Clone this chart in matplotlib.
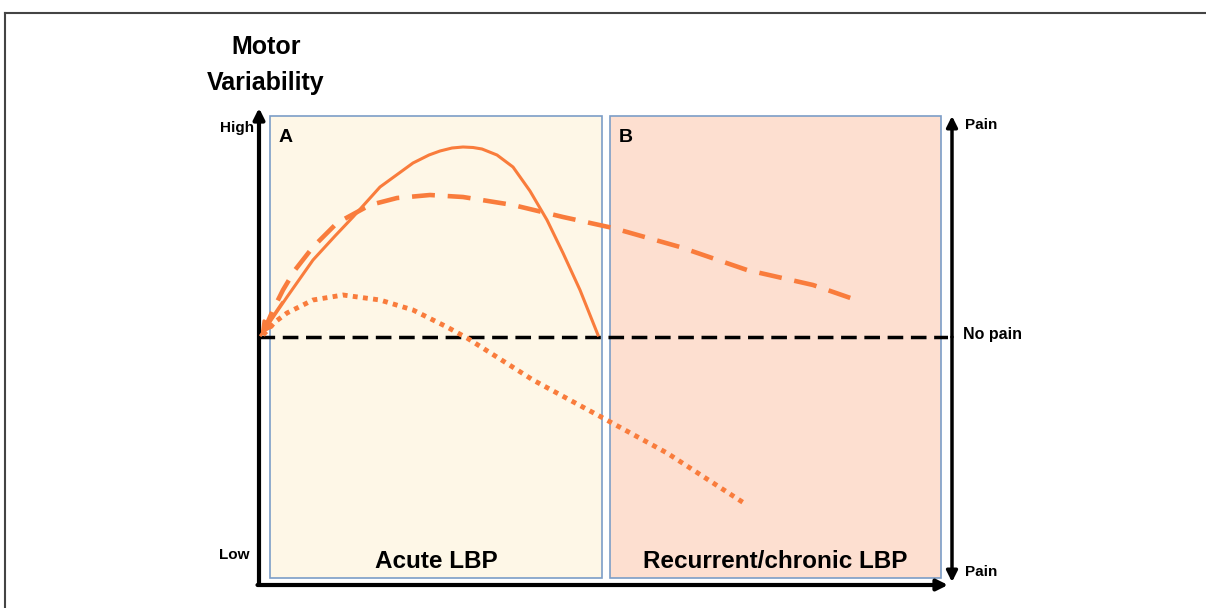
import matplotlib.pyplot as plt
from matplotlib.patches import Rectangle, FancyArrowPatch
from matplotlib.lines import Line2D

plt.rcParams['font.family'] = ['Liberation Sans', 'DejaVu Sans']

# time axis (0 = onset) and motor variability (0 = no-pain baseline)
solid_x = [0.02, 0.28, 0.54, 0.76, 0.94, 1.21, 1.54, 1.70, 1.81, 1.93, 2.04, 2.14, 2.23, 2.38, 2.54, 2.71, 2.88, 3.04, 3.21, 3.39]
solid_y = [0.02, 0.40, 0.77, 1.01, 1.20, 1.50, 1.74, 1.82, 1.86, 1.89, 1.90, 1.895, 1.88, 1.82, 1.70, 1.46, 1.17, 0.84, 0.47, 0.02]

dash_x = [0.04, 0.14, 0.24, 0.36, 0.54, 0.78, 1.11, 1.38, 1.71, 2.04, 2.54, 3.04, 3.54, 4.21, 4.88, 5.54, 6.03]
dash_y = [0.04, 0.27, 0.47, 0.67, 0.90, 1.14, 1.32, 1.39, 1.42, 1.40, 1.32, 1.20, 1.09, 0.90, 0.67, 0.52, 0.35]

dot_x = [0.04, 0.16, 0.28, 0.54, 0.84, 1.21, 1.54, 1.88, 2.08, 2.74, 3.44, 4.08, 4.88]
dot_y = [0.02, 0.15, 0.24, 0.37, 0.42, 0.37, 0.27, 0.10, -0.01, -0.43, -0.81, -1.16, -1.68]

phases = ['Acute LBP', 'Recurrent/chronic LBP']
phase_tags = ['A', 'B']
phase_start = [0.11, 3.51]
phase_end = [3.43, 6.82]
phase_colors = ['#FEF7E7', '#FDDFD0']

orange = '#F97C3C'

fig = plt.figure(figsize=(12.06, 6.08), dpi=100)
ax = fig.add_axes([259 / 1206, 1 - 585 / 608, (948 - 259) / 1206, (585 - 108) / 608])
ax.set_xlim(0, 6.89)
ax.set_ylim(-2.48, 2.29)
ax.axis('off')

y_low, y_high = -2.41, 2.21
for x0, x1, c, tag, name in zip(phase_start, phase_end, phase_colors, phase_tags, phases):
    ax.add_patch(Rectangle((x0, y_low), x1 - x0, y_high - y_low, facecolor=c,
                           edgecolor='#7C9DC7', linewidth=1.2, zorder=1))
    ax.text(x0 + 0.09, y_high - 0.21, tag, fontsize=14, fontweight='bold', ha='left', va='center')
    ax.text((x0 + x1) / 2, -2.24, name, fontsize=17.5, fontweight='bold', ha='center', va='center')

# no pain baseline
ax.plot([0, 6.89], [0, 0], color='black', linestyle=(0, (4.5, 2.2)), linewidth=2.5, zorder=3)

# curves
ax.plot(dot_x, dot_y, color=orange, linestyle=(0, (1, 1.1)), linewidth=3.5, zorder=4)
ax.plot(dash_x, dash_y, color=orange, linestyle=(0, (5, 2.8)), linewidth=3.3, zorder=4)
ax.plot(solid_x, solid_y, color=orange, linewidth=2.2, zorder=4)
ax.add_patch(FancyArrowPatch((0.25, 0.37), (0.0, 0.0), arrowstyle='-|>', mutation_scale=18,
                             color=orange, linewidth=2.2, zorder=5))

# axes arrows
ax.add_patch(FancyArrowPatch((0, -2.48), (0, 2.29), arrowstyle='-|>', mutation_scale=16,
                             color='black', linewidth=3, shrinkA=0, shrinkB=0, clip_on=False))
ax.add_patch(FancyArrowPatch((-0.015, -2.48), (6.89, -2.48), arrowstyle='-|>', mutation_scale=16,
                             color='black', linewidth=3, shrinkA=0, shrinkB=0, clip_on=False))
ax.add_patch(FancyArrowPatch((6.93, 0), (6.93, 2.21), arrowstyle='-|>', mutation_scale=16,
                             color='black', linewidth=2.5, shrinkA=0, shrinkB=0, clip_on=False))
ax.add_patch(FancyArrowPatch((6.93, 0), (6.93, -2.45), arrowstyle='-|>', mutation_scale=16,
                             color='black', linewidth=2.5, shrinkA=0, shrinkB=0, clip_on=False))

ax.text(-0.05, 2.09, 'High', fontsize=11, fontweight='bold', ha='right', va='center', clip_on=False)
ax.text(-0.1, -2.18, 'Low', fontsize=11, fontweight='bold', ha='right', va='center', clip_on=False)
ax.text(0.07, 2.72, 'Motor\nVariability', fontsize=18, fontweight='bold', ha='center', va='center',
        linespacing=1.6, clip_on=False)
ax.text(7.06, 2.12, 'Pain', fontsize=11, fontweight='bold', ha='left', va='center', clip_on=False)
ax.text(7.04, 0.03, 'No pain', fontsize=11.5, fontweight='bold', ha='left', va='center', clip_on=False)
ax.text(7.06, -2.35, 'Pain', fontsize=11, fontweight='bold', ha='left', va='center', clip_on=False)

# frame of the original figure (top and left edges only)
fig.add_artist(Line2D([5 / 1206, 1], [1 - 13 / 608, 1 - 13 / 608], color='#444444', linewidth=1.5))
fig.add_artist(Line2D([5 / 1206, 5 / 1206], [0, 1 - 13 / 608], color='#444444', linewidth=1.5))

fig.savefig('out.png', dpi=100)
